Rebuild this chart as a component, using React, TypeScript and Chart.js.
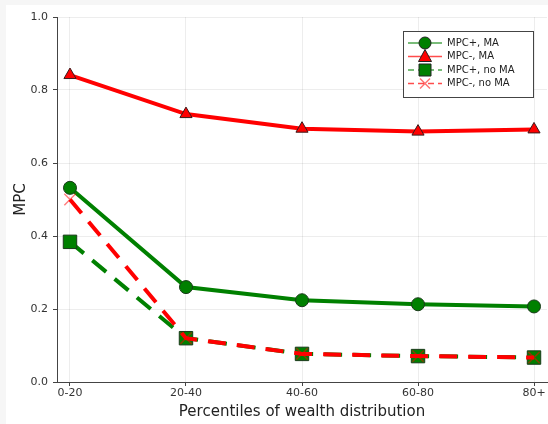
import React, { useEffect, useRef } from "react";
import { Chart, registerables } from "chart.js";

Chart.register(...registerables);

const categories = ["0-20", "20-40", "40-60", "60-80", "80+"];
const mpcPlusMA = [0.532, 0.26, 0.224, 0.213, 0.207];
const mpcMinusMA = [0.841, 0.734, 0.694, 0.686, 0.692];
const mpcPlusNoMA = [0.384, 0.12, 0.077, 0.071, 0.067];
const mpcMinusNoMA = [0.5, 0.12, 0.077, 0.071, 0.067];
const yTicks = [0, 0.2, 0.4, 0.6, 0.8, 1.0];

const GREEN = "#008000";
const RED = "#ff0000";
const FONT = "'DejaVu Sans', sans-serif";

const legendItems = [
  { label: "MPC+, MA", color: GREEN, dash: [] as number[], marker: "circle" },
  { label: "MPC-, MA", color: RED, dash: [] as number[], marker: "triangle" },
  { label: "MPC+, no MA", color: GREEN, dash: [6, 4], marker: "rect" },
  { label: "MPC-, no MA", color: RED, dash: [6, 4], marker: "crossRot" },
];

const bgPlugin = {
  id: "bgPlugin",
  beforeDraw(chart: any) {
    const { ctx, width, height } = chart;
    ctx.save();
    ctx.fillStyle = "#f6f6f6";
    ctx.fillRect(0, 0, width, height);
    ctx.fillStyle = "#ffffff";
    ctx.fillRect(6, 5, width - 6, height - 5);
    ctx.restore();
  },
};

const xLabelPlugin = {
  id: "xLabels",
  afterDraw(chart: any) {
    const { ctx } = chart;
    const xs = chart.scales.x;
    ctx.save();
    ctx.font = `11px ${FONT}`;
    ctx.fillStyle = "#333";
    ctx.textAlign = "center";
    ctx.textBaseline = "middle";
    categories.forEach((c, i) => {
      ctx.fillText(c, xs.getPixelForValue(i), xs.top + 11);
    });
    ctx.restore();
  },
};

const legendPlugin = {
  id: "customLegend",
  afterDatasetsDraw(chart: any) {
    const { ctx } = chart;
    const x0 = 403, y0 = 31, w = 130, h = 66;
    ctx.save();
    ctx.fillStyle = "#ffffff";
    ctx.fillRect(x0, y0, w, h);
    ctx.strokeStyle = "#444";
    ctx.lineWidth = 1;
    ctx.strokeRect(x0 + 0.5, y0 + 0.5, w, h);
    ctx.font = `10px ${FONT}`;
    ctx.textBaseline = "middle";
    legendItems.forEach((it, i) => {
      const y = y0 + 12 + i * 13.5;
      ctx.save();
      ctx.strokeStyle = it.color;
      ctx.globalAlpha = 0.7;
      ctx.lineWidth = 1.5;
      ctx.setLineDash(it.dash);
      ctx.beginPath();
      ctx.moveTo(408, y);
      ctx.lineTo(442, y);
      ctx.stroke();
      ctx.restore();
      ctx.save();
      if (it.marker === "crossRot") {
        ctx.strokeStyle = "rgba(255,0,0,0.55)";
        ctx.lineWidth = 1.5;
        ctx.beginPath();
        ctx.moveTo(420, y - 5);
        ctx.lineTo(430, y + 5);
        ctx.moveTo(430, y - 5);
        ctx.lineTo(420, y + 5);
        ctx.stroke();
      } else {
        ctx.fillStyle = it.color;
        ctx.strokeStyle = "#222";
        ctx.lineWidth = 1;
        ctx.beginPath();
        if (it.marker === "circle") {
          ctx.arc(425, y, 6, 0, Math.PI * 2);
        } else if (it.marker === "triangle") {
          ctx.moveTo(425, y - 7);
          ctx.lineTo(431.5, y + 5);
          ctx.lineTo(418.5, y + 5);
          ctx.closePath();
        } else {
          ctx.rect(419, y - 6, 12, 12);
        }
        ctx.fill();
        ctx.stroke();
      }
      ctx.restore();
      ctx.fillStyle = "#222";
      ctx.fillText(it.label, 447, y);
    });
    ctx.restore();
  },
};

function toXY(vals: number[]) {
  return vals.map((v, i) => ({ x: i, y: v }));
}

export default function App() {
  const ref = useRef<HTMLCanvasElement | null>(null);
  useEffect(() => {
    if (!ref.current) return;
    const chart = new Chart(ref.current, {
      type: "line",
      data: {
        datasets: [
          {
            label: "MPC+, MA",
            data: toXY(mpcPlusMA),
            borderColor: GREEN,
            backgroundColor: GREEN,
            borderWidth: 4,
            pointStyle: "circle",
            pointRadius: 6.5,
            pointBorderColor: "#1a3a1a",
            pointBorderWidth: 1,
            order: 4,
          },
          {
            label: "MPC-, MA",
            data: toXY(mpcMinusMA),
            borderColor: RED,
            backgroundColor: RED,
            borderWidth: 4,
            pointStyle: "triangle",
            pointRadius: 7,
            pointBorderColor: "#3a1a1a",
            pointBorderWidth: 1,
            order: 3,
          },
          {
            label: "MPC+, no MA",
            data: toXY(mpcPlusNoMA),
            borderColor: GREEN,
            backgroundColor: GREEN,
            borderWidth: 4,
            borderDash: [18, 11],
            pointStyle: "rect",
            pointRadius: 9.5,
            pointBorderColor: "#1a3a1a",
            pointBorderWidth: 1,
            order: 2,
          },
          {
            label: "MPC-, no MA",
            data: toXY(mpcMinusNoMA),
            borderColor: RED,
            backgroundColor: RED,
            borderWidth: 4,
            borderDash: [18, 11],
            pointStyle: "crossRot",
            pointRadius: 8,
            pointBorderColor: "rgba(255,0,0,0.5)",
            pointBorderWidth: 1.5,
            order: 1,
          },
        ],
      },
      options: {
        animation: false,
        responsive: false,
        devicePixelRatio: 1,
        layout: { autoPadding: false, padding: { top: 17, right: 1, bottom: 0, left: 0 } },
        plugins: { legend: { display: false }, tooltip: { enabled: false } },
        scales: {
          x: {
            type: "linear",
            min: -0.112,
            max: 4.112,
            afterBuildTicks: (scale: any) => {
              scale.ticks = categories.map((_, i) => ({ value: i }));
            },
            afterFit: (scale: any) => {
              scale.height = 42;
            },
            ticks: {
              callback: () => "",
              font: { family: FONT, size: 11 },
              color: "#333",
              padding: 2,
              maxRotation: 0,
              autoSkip: false,
            },
            grid: {
              color: "rgba(0,0,0,0.07)",
              tickLength: 4,
              tickColor: "#444",
            },
            border: { color: "#444", width: 1 },
            title: {
              display: true,
              text: "Percentiles of wealth distribution",
              font: { family: FONT, size: 15 },
              color: "#222",
              padding: { top: 0, bottom: 3 },
            },
          },
          y: {
            min: 0,
            max: 1,
            afterBuildTicks: (scale: any) => {
              scale.ticks = yTicks.map((v) => ({ value: v }));
            },
            afterFit: (scale: any) => {
              scale.width = 57;
            },
            ticks: {
              callback: (v: any) => Number(v).toFixed(1),
              font: { family: FONT, size: 11 },
              color: "#333",
              padding: 5,
            },
            grid: {
              color: "rgba(0,0,0,0.07)",
              tickLength: 4,
              tickColor: "#444",
            },
            border: { color: "#444", width: 1 },
            title: {
              display: true,
              text: "MPC",
              font: { family: FONT, size: 15 },
              color: "#222",
              padding: { top: 12, bottom: 0 },
            },
          },
        },
      },
      plugins: [bgPlugin, legendPlugin, xLabelPlugin],
    } as any);
    return () => chart.destroy();
  }, []);
  return (
    <div style={{ position: "fixed", left: 0, top: 0, width: 548, height: 424 }}>
      <canvas ref={ref} width={548} height={424} />
    </div>
  );
}
